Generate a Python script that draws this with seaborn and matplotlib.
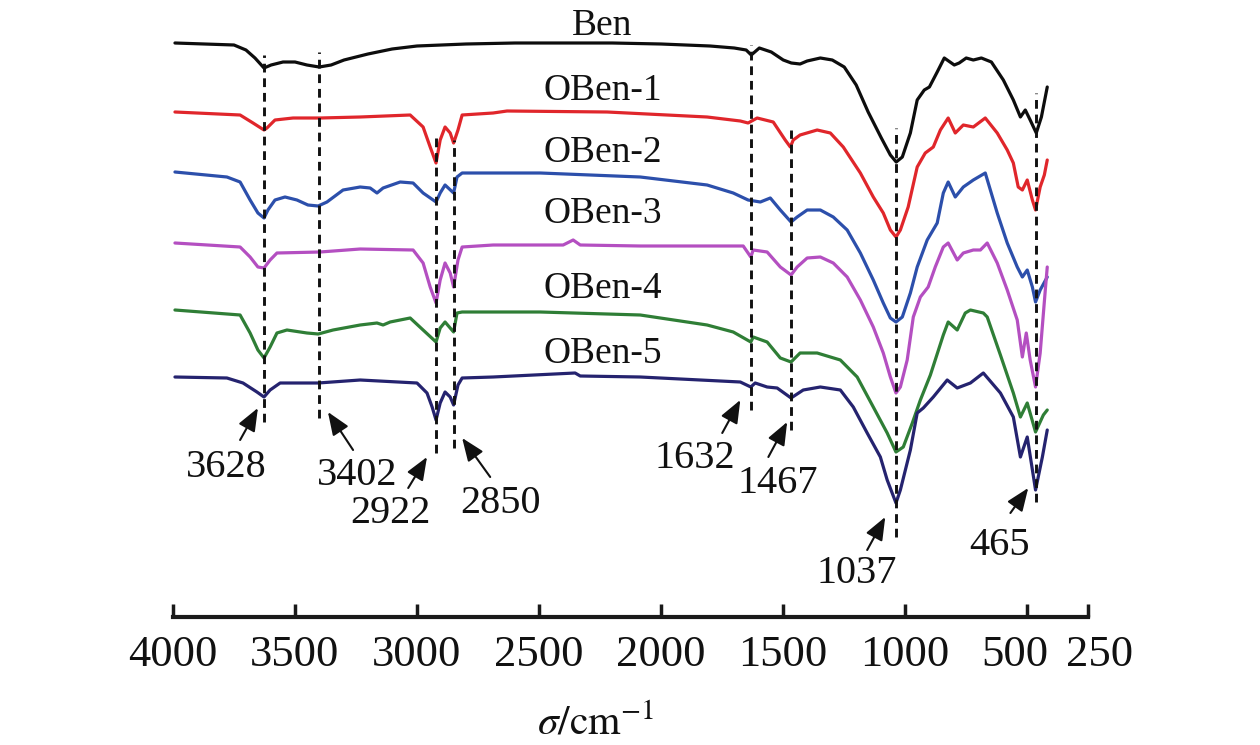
import numpy as np
import pandas as pd
import matplotlib
matplotlib.use("Agg")
import matplotlib.pyplot as plt
import matplotlib.transforms as mtransforms
import seaborn as sns

# ---------------- data (wavenumber in cm^-1, relative transmittance a.u.) ----------------
samples = ["Ben", "OBen-1", "OBen-2", "OBen-3", "OBen-4", "OBen-5"]
offsets = [574, 504, 444, 375, 305, 240]
colors = ["#0d0d0d", "#e0262b", "#2c4fab", "#b44fc1", "#2f7e36", "#25236f"]

wn_ben = [3992, 3750, 3701, 3664, 3627, 3598, 3549, 3500, 3451, 3401, 3352, 3299, 3201, 3102, 3000,
          2799, 2598, 2401, 2200, 2000, 1799, 1700, 1651, 1630, 1597, 1548, 1499, 1466, 1430, 1401,
          1347, 1298, 1249, 1200, 1151, 1097, 1060, 1036, 1011, 978, 950, 921, 900, 868, 839,
          798, 778, 749, 720, 687, 646, 597, 556, 527, 507, 487, 462, 441, 417]
t_ben = [0, -2, -7, -15, -25, -22, -19, -19, -22, -24, -22, -17, -11, -6, -3,
         -1, 0, 0, 0, -1, -3, -5, -7, -12, -5, -9, -17, -20, -21, -18,
         -15, -17, -24, -42, -69, -95, -112, -119, -114, -90, -57, -47, -44, -29, -15,
         -22, -20, -15, -17, -15, -19, -37, -57, -74, -67, -77, -90, -74, -44]

wn_oben1 = [3992, 3725, 3672, 3627, 3615, 3582, 3508, 3397, 3233, 3028, 2975, 2946, 2922, 2905, 2885,
            2864, 2850, 2832, 2815, 2688, 2631, 2221, 1811, 1675, 1643, 1606, 1540, 1491, 1470, 1458,
            1430, 1360, 1306, 1253, 1183, 1130, 1089, 1060, 1037, 1019, 987, 950, 917, 884, 855,
            823, 794, 761, 720, 671, 622, 581, 556, 536, 519, 499, 478, 465, 446, 429, 417]
t_oben1 = [1, -2, -10, -17, -15, -7, -5, -5, -4, -2, -14, -34, -50, -27, -14,
           -20, -30, -17, -2, 0, 2, 1, -4, -8, -10, -5, -9, -27, -34, -27,
           -22, -17, -20, -34, -60, -84, -100, -117, -124, -117, -94, -54, -40, -34, -17,
           -5, -20, -12, -14, -5, -20, -37, -50, -74, -77, -67, -87, -97, -74, -62, -47]

wn_oben2 = [3992, 3779, 3725, 3684, 3652, 3627, 3611, 3582, 3541, 3492, 3447, 3405, 3369, 3303, 3233,
            3192, 3164, 3139, 3069, 3016, 2975, 2922, 2905, 2885, 2850, 2836, 2815, 2495, 2085, 1811,
            1704, 1643, 1593, 1552, 1511, 1467, 1442, 1401, 1347, 1294, 1237, 1183, 1130, 1089, 1060,
            1037, 1011, 978, 950, 909, 868, 843, 823, 794, 761, 720, 671, 622, 581, 540,
            519, 499, 478, 465, 446, 417]
t_oben2 = [1, -4, -9, -27, -40, -45, -37, -27, -24, -27, -32, -33, -29, -17, -14,
           -15, -20, -15, -9, -10, -20, -29, -20, -12, -20, -4, 0, 0, -4, -12,
           -20, -27, -29, -25, -37, -49, -44, -37, -37, -44, -57, -80, -107, -130, -145,
           -149, -144, -120, -94, -67, -50, -20, -9, -24, -14, -7, 0, -40, -70, -94,
           -104, -97, -114, -129, -117, -104]

wn_oben3 = [3992, 3725, 3684, 3652, 3627, 3602, 3574, 3397, 3233, 3016, 2975, 2946, 2922, 2905, 2885,
            2864, 2850, 2832, 2815, 2688, 2401, 2360, 2331, 2085, 1663, 1632, 1622, 1565, 1511, 1467,
            1442, 1401, 1347, 1294, 1237, 1183, 1130, 1089, 1060, 1037, 1019, 991, 966, 937, 905,
            876, 843, 823, 786, 761, 720, 691, 663, 622, 581, 540, 519, 503, 487, 465,
            446, 425, 417]
t_oben3 = [-1, -5, -15, -25, -26, -18, -11, -10, -7, -8, -21, -45, -61, -38, -21,
           -31, -45, -18, -5, -3, -3, 2, -3, -4, -4, -15, -8, -10, -25, -33,
           -25, -16, -15, -21, -35, -58, -85, -111, -135, -151, -145, -118, -75, -55, -45,
           -25, -5, -1, -18, -11, -8, -8, -1, -21, -48, -78, -115, -91, -118, -145,
           -111, -48, -25]

wn_oben4 = [3992, 3725, 3684, 3652, 3627, 3602, 3574, 3533, 3451, 3405, 3344, 3233, 3164, 3139, 3110,
            3028, 2975, 2922, 2905, 2885, 2850, 2836, 2815, 2495, 2085, 1811, 1704, 1632, 1622, 1565,
            1511, 1467, 1430, 1360, 1265, 1196, 1130, 1073, 1037, 1007, 970, 937, 896, 843, 823,
            786, 753, 732, 679, 663, 609, 556, 527, 499, 465, 433, 417]
t_oben4 = [2, -3, -21, -38, -46, -35, -21, -18, -21, -22, -18, -13, -11, -13, -10,
           -6, -18, -30, -16, -10, -20, -1, 0, 0, -3, -13, -20, -30, -25, -30,
           -46, -50, -41, -41, -48, -65, -95, -121, -140, -135, -111, -88, -63, -23, -10,
           -18, -1, 2, -1, -5, -43, -81, -105, -91, -120, -103, -98]

wn_oben5 = [3992, 3779, 3713, 3656, 3627, 3602, 3561, 3405, 3233, 3000, 2959, 2938, 2922, 2905, 2885,
            2864, 2850, 2832, 2815, 2688, 2352, 2331, 2085, 1675, 1632, 1614, 1565, 1524, 1467, 1417,
            1347, 1265, 1212, 1155, 1101, 1073, 1037, 1019, 978, 950, 925, 884, 827, 786, 732,
            679, 609, 556, 527, 499, 465, 437, 417]
t_oben5 = [0, -1, -6, -15, -20, -13, -6, -6, -3, -6, -16, -30, -43, -26, -15,
           -20, -28, -8, -1, 0, 4, 1, 0, -5, -10, -6, -10, -11, -21, -13,
           -10, -13, -30, -56, -80, -103, -126, -113, -73, -36, -31, -20, -3, -11, -6,
           4, -16, -40, -80, -60, -113, -80, -53]

wn_list = [wn_ben, wn_oben1, wn_oben2, wn_oben3, wn_oben4, wn_oben5]
t_list = [t_ben, t_oben1, t_oben2, t_oben3, t_oben4, t_oben5]

# curve name labels (wavenumber, baseline a.u.)
name_wn = 2240
name_y = [582, 517, 455, 394, 319, 254]

# marked peaks: dashed guide lines
peak_wn = [3628, 3402, 2922, 2850, 1632, 1467, 1037, 465]
peak_top = [562, 565, 484, 477, 572, 487, 489, 524]
peak_bottom = [195, 199, 164, 169, 207, 187, 80, 115]
# peak labels: text position, arrow tail, arrow head
peak_text_wn = [3783, 3246, 3110, 2659, 1860, 1520, 1196, 613]
peak_text_y = [140, 132, 94, 104, 149, 124, 34, 62]
arrow_tail_wn = [3725, 3262, 3036, 2700, 1749, 1560, 1155, 568]
arrow_tail_y = [177, 167, 129, 140, 184, 160, 67, 104]
arrow_head_wn = [3652, 3365, 2959, 2815, 1675, 1483, 1081, 495]
arrow_head_y = [209, 205, 160, 179, 217, 195, 100, 129]

xticks = [4000, 3500, 3000, 2500, 2000, 1500, 1000, 500, 250]

# ---------------- build long table ----------------
frames = []
for name, off, wn, t in zip(samples, offsets, wn_list, t_list):
    frames.append(pd.DataFrame({"wn": wn, "T": np.asarray(t) + off, "sample": name}))
df = pd.concat(frames, ignore_index=True)

# ---------------- style ----------------
sns.set_theme(style="white")
plt.rcParams["font.family"] = ["Liberation Serif", "DejaVu Serif"]
plt.rcParams["mathtext.fontset"] = "stix"

fig = plt.figure(figsize=(12.6, 7.45), dpi=100)
ax = fig.add_axes([173 / 1260, 128 / 745, 915 / 1260, 617 / 745])

sns.lineplot(data=df, x="wn", y="T", hue="sample", palette=dict(zip(samples, colors)),
             sort=False, estimator=None, legend=False, linewidth=2.3, ax=ax)

ax.vlines(peak_wn, peak_bottom, peak_top, colors="#111111", linestyles=(0, (3.0, 2.0)),
          linewidth=2.1, zorder=3)

for name, y in zip(samples, name_y):
    ax.text(name_wn, y, name, ha="center", va="baseline", fontsize=27, color="#111111")

for lab, tx, ty, ax0, ay0, ax1, ay1 in zip(peak_wn, peak_text_wn, peak_text_y,
                                           arrow_tail_wn, arrow_tail_y,
                                           arrow_head_wn, arrow_head_y):
    ax.text(tx, ty, str(lab), ha="center", va="baseline", fontsize=29, color="#111111")
    ax.annotate("", xy=(ax1, ay1), xytext=(ax0, ay0),
                arrowprops=dict(arrowstyle="-|>,head_length=0.7,head_width=0.28",
                                color="#111111", lw=1.5, mutation_scale=20,
                                shrinkA=0, shrinkB=0))

ax.set_xlim(4000, 250)
ax.set_ylim(0, 617)
ax.set_xticks(xticks)
ax.set_xticklabels([str(v) for v in xticks])
ax.set_yticks([])
ax.set_ylabel("")
ax.set_xlabel(r"$\sigma/\mathrm{cm}^{-1}$", fontsize=30, color="#111111")
ax.xaxis.set_label_coords(0.462, -0.142)
ax.xaxis.label.set_va("top")

for s in ["left", "right", "top"]:
    ax.spines[s].set_visible(False)
ax.spines["bottom"].set_linewidth(3.0)
ax.spines["bottom"].set_color("#1a1a1a")
ax.tick_params(axis="x", direction="in", length=9.5, width=2.5, color="#1a1a1a",
               labelsize=32, pad=13, labelcolor="#111111", bottom=True)
ax.patch.set_alpha(0)

# the two crowded labels at the right end are nudged apart, as in the original
labels = ax.get_xticklabels()
shift_left = mtransforms.ScaledTranslation(-0.12, 0, fig.dpi_scale_trans)
shift_right = mtransforms.ScaledTranslation(0.12, 0, fig.dpi_scale_trans)
labels[-2].set_transform(labels[-2].get_transform() + shift_left)
labels[-1].set_transform(labels[-1].get_transform() + shift_right)

fig.savefig("out.png", dpi=100)
